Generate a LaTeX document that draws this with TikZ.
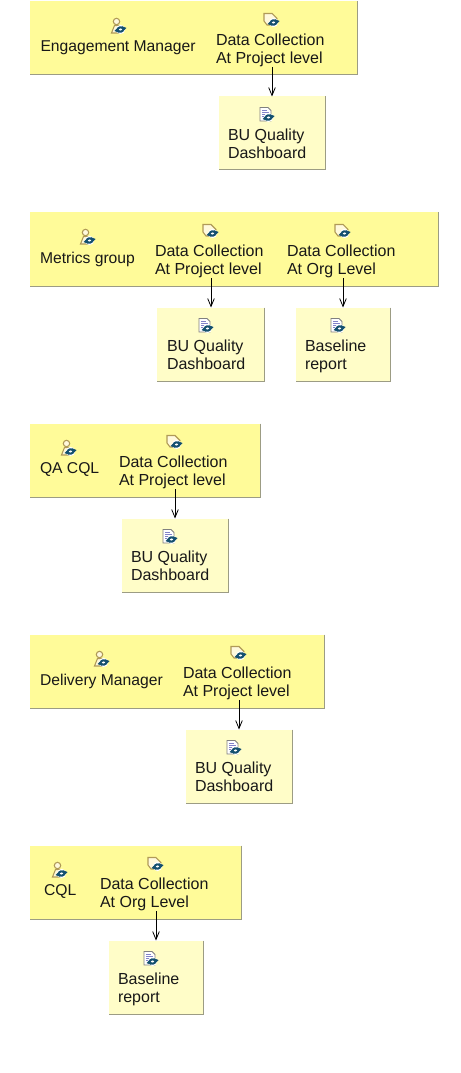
\documentclass[tikz,border=0pt]{standalone}
\usepackage{fontspec}
\setmainfont{Liberation Sans}
\usetikzlibrary{fit,arrows.meta}
\definecolor{grpfill}{HTML}{FFFB99}
\definecolor{dashfill}{HTML}{FFFDC8}
\definecolor{edgegray}{HTML}{9C9C84}
\definecolor{icoblue}{HTML}{14506F}
\definecolor{icotan}{HTML}{B09A58}
\definecolor{icofill}{HTML}{FFF9DC}
\definecolor{txt}{HTML}{181818}
\tikzset{
  x=0.75pt,y=-0.75pt,
  grpbox/.style={fill=grpfill,draw=none,inner sep=0pt,outer sep=0pt},
  dashbox/.style={fill=dashfill,draw=none,inner sep=0pt,outer sep=0pt},
  rim/.style={draw=edgegray,line width=0.75pt},
  label/.style={anchor=north west,inner sep=0pt,outer sep=0pt,align=left,text=txt,
    font=\fontsize{12}{13.5}\selectfont},
  rolelabel/.style={label,font=\fontsize{11.75}{13.5}\selectfont},
  flow/.style={draw=black,line width=0.6pt,-{Straight Barb[length=6pt,width=5pt,line width=0.6pt]}},
  pics/sync/.style={code={
    \fill[white] (0,0) circle[radius=4.6];
    \draw[icoblue,line width=1.5pt] (-3.4,-0.6) arc[start angle=170,end angle=40,radius=3.4];
    \draw[icoblue,line width=1.5pt] (3.4,0.6) arc[start angle=-10,end angle=-140,radius=3.4];
    \fill[icoblue] (6,-1.5) -- (1,-3.5) -- (2.5,2) -- cycle;
    \fill[icoblue] (-6,1.5) -- (-1,3.5) -- (-2.5,-2) -- cycle;
  }},
  pics/roleicon/.style={code={
    \draw[icotan,fill=icofill,line width=0.8pt] (-1.5,-5.5) circle[radius=3.2];
    \draw[icotan,fill=icofill,line width=0.8pt] (-6.5,6) -- (-3.5,-1.5) -- (1,-1.5) -- (3,6) -- cycle;
    \pic at (2.5,2.5) {sync};
  }},
  pics/dataicon/.style={code={
    \draw[icotan,fill=icofill,line width=0.8pt] (-7,-6.5) -- (1,-6.5) -- (6,-1.5) -- (3,5) -- (-4,5) -- (-7,1) -- cycle;
    \pic at (2.5,2.5) {sync};
  }},
  pics/docicon/.style={code={
    \draw[gray,fill=white,line width=0.7pt] (-6,-7.5) -- (2,-7.5) -- (5,-4.5) -- (5,6) -- (-6,6) -- cycle;
    \draw[blue!40!gray!70,line width=0.5pt] (-4,-4.5) -- (1,-4.5) (-4,-2.5) -- (3,-2.5) (-4,-0.5) -- (3,-0.5) (-4,1.5) -- (0,1.5);
    \pic at (2.5,2.5) {sync};
  }},
}
\newcommand{\mybox}[6]{%
  \node[#6,fit={(#2,#3)(#4,#5)}] (#1) {};
  \draw[rim] (#1.north east) -- (#1.south east) -- (#1.south west);
}
\begin{document}
\begin{tikzpicture}
\useasboundingbox[fill=white] (0,0) rectangle (460,1073);

% group 1
\mybox{g1}{30}{1.5}{357}{75}{grpbox}
\pic at (118,27) {roleicon};
\pic at (271,20) {dataicon};
\node[rolelabel] (r1) at (40.5,41) {Engagement Manager};
\node[label] (d1) at (216,34) {Data Collection\\At Project level};
\mybox{t1}{219}{96.5}{325}{170}{dashbox}
\pic at (266,115) {docicon};
\node[label] (x1) at (228,129) {BU Quality\\Dashboard};
\coordinate (a1) at (272,67);
\draw[flow] (a1) -- (a1 |- t1.north);

% group 2
\mybox{g2}{30}{212.5}{438}{286}{grpbox}
\pic at (87,238) {roleicon};
\pic at (210,231) {dataicon};
\pic at (342,231) {dataicon};
\node[rolelabel] (r2) at (40,252) {Metrics group};
\node[label] (d2) at (155,245) {Data Collection\\At Project level};
\node[label] (e2) at (287,245) {Data Collection\\At Org Level};
\mybox{t2}{157}{307.5}{264}{381}{dashbox}
\mybox{u2}{296}{307.5}{390}{381}{dashbox}
\pic at (205,326) {docicon};
\pic at (337,326) {docicon};
\node[label] (x2) at (167,340) {BU Quality\\Dashboard};
\node[label] (y2) at (305,340) {Baseline\\report};
\coordinate (a2) at (211,278);
\coordinate (b2) at (343,278);
\draw[flow] (a2) -- (a2 |- t2.north);
\draw[flow] (b2) -- (b2 |- u2.north);

% group 3
\mybox{g3}{30}{423.5}{260}{497}{grpbox}
\pic at (68,449) {roleicon};
\pic at (174,442) {dataicon};
\node[rolelabel] (r3) at (40,463) {QA CQL};
\node[label] (d3) at (119,456) {Data Collection\\At Project level};
\mybox{t3}{122}{518.5}{228}{592}{dashbox}
\pic at (169,537) {docicon};
\node[label] (x3) at (131,551) {BU Quality\\Dashboard};
\coordinate (a3) at (175,489);
\draw[flow] (a3) -- (a3 |- t3.north);

% group 4
\mybox{g4}{30}{634.5}{324}{708}{grpbox}
\pic at (101,660) {roleicon};
\pic at (238,653) {dataicon};
\node[rolelabel] (r4) at (40,674) {Delivery Manager};
\node[label] (d4) at (183,667) {Data Collection\\At Project level};
\mybox{t4}{186}{729.5}{292}{803}{dashbox}
\pic at (233,748) {docicon};
\node[label] (x4) at (195,762) {BU Quality\\Dashboard};
\coordinate (a4) at (239,700);
\draw[flow] (a4) -- (a4 |- t4.north);

% group 5
\mybox{g5}{30}{845.5}{241}{919}{grpbox}
\pic at (59,871) {roleicon};
\pic at (155,864) {dataicon};
\node[rolelabel] (r5) at (44,885) {CQL};
\node[label] (d5) at (100,878) {Data Collection\\At Org Level};
\mybox{t5}{109}{940.5}{203}{1014}{dashbox}
\pic at (150,959) {docicon};
\node[label] (x5) at (118,973) {Baseline\\report};
\coordinate (a5) at (156,911);
\draw[flow] (a5) -- (a5 |- t5.north);
\end{tikzpicture}
\end{document}
